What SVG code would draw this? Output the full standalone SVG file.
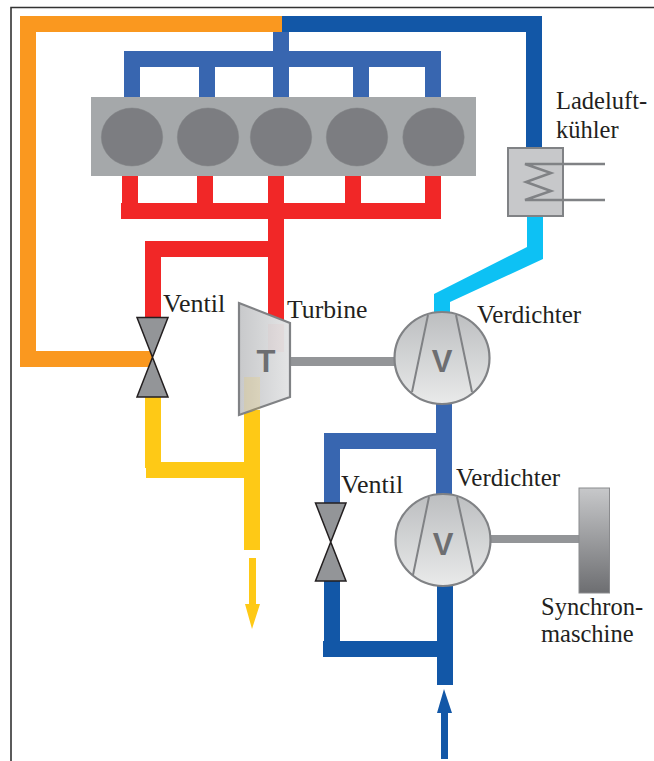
<svg xmlns="http://www.w3.org/2000/svg" width="654" height="761" viewBox="0 0 654 761">
<style>
.p{fill:none;stroke-width:16;stroke-linejoin:miter;stroke-linecap:butt}
.orange{stroke:#fa981f}.dark{stroke:#1257a7}.mid{stroke:#3866b0}.red{stroke:#f12727}.yellow{stroke:#fec916}.cyan{fill:#0dc1f4}
.shaft{fill:#939598}
.t{font-family:"Liberation Serif","Times New Roman",serif;font-size:24.5px;fill:#231f20}
.v{font-size:26px}
.d{font-size:25px}
.b{font-size:25.700px}
.l{font-family:"Liberation Sans",Arial,sans-serif;font-weight:700;font-size:31px;fill:#6d6e71;text-anchor:middle}
.valve{fill:#939598;stroke:#231f20;stroke-width:1.5;stroke-linejoin:miter}
.comp{fill:url(#gv);stroke:#808285;stroke-width:2.2}
.blade{fill:none;stroke:#808285;stroke-width:2}
.cyl{fill:#7c7d81;stroke:#808285;stroke-width:.5}
.coil{fill:none;stroke:#808285;stroke-width:2.5}
</style>
<defs>
<linearGradient id="gv" x1="0" y1="0" x2="0" y2="1"><stop offset="0" stop-color="#bcbec0"/><stop offset="1" stop-color="#e9eaea"/></linearGradient>
<linearGradient id="gt" x1="0" y1="0" x2="1" y2="0"><stop offset="0" stop-color="#c8c9cb"/><stop offset="1" stop-color="#e4e5e6"/></linearGradient>
<linearGradient id="gs" x1="0" y1="0" x2="0" y2="1"><stop offset="0" stop-color="#c7c8ca"/><stop offset="1" stop-color="#6d6e71"/></linearGradient>
</defs>
<path d="M654 7.5H11V761" fill="none" stroke="#333" stroke-width="1.6"/>
<g id="connectors">
<path class="p orange" d="M282 24H28V359H152"/>
<path class="p dark" d="M282 24H534V150"/>
<path class="p mid" d="M281 32V97M132 97V59H433V97M207 59V97M361 59V97"/>
<path class="p red" d="M130 176V211M205 176V211M276 176V320M353 176V211M433 176V211M121 211H441M276 249H153V318"/>
<path class="p yellow" d="M153 397V468M146 470H252M252 410V550"/>
<path class="cyan" d="M527 215H543V259L450 302V315H434V294L527 247Z"/>
<path class="p mid" d="M444 404V495M452 441H332V504"/>
<path class="p dark" d="M332 581V649M323 649H445M445 585V685"/>
<path d="M249 558H256V604H260L252 629L245 604H249Z" fill="#fec916"/>
<path d="M444 689L452 713H448V759H441V713H437Z" fill="#1257a7"/>
<rect class="shaft" x="289" y="357" width="107" height="9"/>
<rect class="shaft" x="489" y="535" width="91" height="8"/>
</g>
<g id="engine">
<rect x="91" y="97" width="385" height="79" fill="#a5a8aa"/>
<ellipse class="cyl" cx="132" cy="137" rx="30.7" ry="29"/>
<ellipse class="cyl" cx="208" cy="137" rx="30.7" ry="29"/>
<ellipse class="cyl" cx="281" cy="137" rx="30.7" ry="29"/>
<ellipse class="cyl" cx="357" cy="137" rx="30.7" ry="29"/>
<ellipse class="cyl" cx="433.5" cy="137" rx="30.7" ry="29"/>
</g>
<g id="ladeluftkuehler">
<rect x="508" y="148" width="55" height="68" fill="#c7c8ca" stroke="#808285" stroke-width="2"/>
<path class="coil" d="M605 164H525L551 173L526 182L551 191L525 200H605"/>
<text class="t" x="556" y="109">Ladeluft-</text>
<text class="t" x="556" y="138">kühler</text>
</g>
<g id="ventil1">
<path class="valve" d="M137 317.500H168L137 397H168Z"/>
<text class="t v" x="163" y="312">Ventil</text>
</g>
<g id="turbine">
<path d="M239 303L290 323V397L239 415Z" fill="url(#gt)" stroke="#808285" stroke-width="2.200"/>
<rect x="268" y="324" width="16" height="28" fill="#f12727" opacity=".03"/>
<rect x="244" y="377" width="16" height="34" fill="#fec916" opacity=".14"/>
<text class="l" x="266" y="372">T</text>
<text class="t b" x="287" y="318">Turbine</text>
</g>
<g id="verdichter1">
<ellipse class="comp" cx="442" cy="358" rx="47.500" ry="46"/>
<path class="blade" d="M428 315L412 392M456 315L472 392"/>
<text class="l" x="442" y="372">V</text>
<text class="t d" x="477" y="323">Verdichter</text>
</g>
<g id="verdichter2">
<ellipse class="comp" cx="443" cy="540" rx="47.500" ry="46"/>
<path class="blade" d="M429 497L413 575M457 497L474 575"/>
<text class="l" x="443" y="555">V</text>
<text class="t d" x="456" y="486">Verdichter</text>
</g>
<g id="ventil2">
<path class="valve" d="M315.500 503H346L315.500 581H346Z"/>
<text class="t v" x="341" y="493">Ventil</text>
</g>
<g id="synchronmaschine">
<rect x="579" y="488" width="30.500" height="105" fill="url(#gs)" stroke="#8a8b8e" stroke-width="1"/>
<text class="t" x="541" y="615">Synchron-</text>
<text class="t" x="541" y="642">maschine</text>
</g>
</svg>
